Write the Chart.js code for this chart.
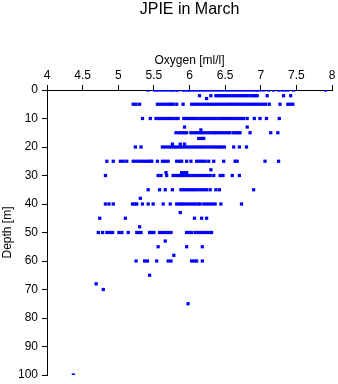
<!DOCTYPE html>
<html lang="en">
<head>
  <meta charset="UTF-8">
  <title>JPIE in March</title>
  <script src="https://cdn.jsdelivr.net/npm/chart.js"></script>
  <style>
    body { margin: 0; background: #fff; }
    canvas { display: block; }
  </style>
</head>
<body>
  <canvas id="graphique" width="338" height="384"></canvas>

  <script>
    // depth levels [m] and the oxygen readings [ml/l] taken at each level
    const depthLevels = [0, 2, 3, 5, 10, 13, 14, 15, 17, 19, 20, 25, 28, 29, 30, 35, 38, 40, 43, 45, 48, 50, 53, 55, 58, 60, 65, 68, 70, 75, 100];
    const oxygenByDepth = [
      [5.42, 5.51, 5.55, 5.59, 5.63, 5.67, 5.71, 5.74, 5.77, 5.81, 5.84, 5.91, 5.94, 5.98, 6.00, 6.04, 6.08, 6.12, 6.16, 6.20, 6.24, 6.28, 6.32, 6.36, 6.40, 6.44, 6.48, 6.52, 6.56, 6.60, 6.64, 6.68, 6.72, 6.76, 6.80, 6.84, 6.88, 6.92, 6.95, 6.99, 7.04, 7.11, 7.18, 7.25, 7.30, 7.34, 7.38, 7.46, 7.91],
      [6.14, 6.30, 6.37, 6.41, 6.45, 6.49, 6.53, 6.57, 6.61, 6.65, 6.69, 6.73, 6.77, 6.81, 6.85, 6.89, 6.92, 6.95, 7.09, 7.32, 7.42],
      [6.24],
      [5.21, 5.25, 5.30, 5.55, 5.59, 5.63, 5.67, 5.71, 5.74, 5.77, 5.82, 5.91, 6.03, 6.07, 6.11, 6.15, 6.19, 6.23, 6.27, 6.31, 6.35, 6.39, 6.43, 6.47, 6.51, 6.55, 6.59, 6.63, 6.67, 6.71, 6.75, 6.79, 6.83, 6.87, 6.91, 6.95, 6.99, 7.03, 7.07, 7.12, 7.27, 7.38, 7.42, 7.45],
      [5.34, 5.45, 5.53, 5.57, 5.61, 5.65, 5.69, 5.73, 5.77, 5.81, 5.84, 5.92, 5.96, 6.00, 6.04, 6.08, 6.12, 6.16, 6.20, 6.24, 6.28, 6.32, 6.36, 6.40, 6.44, 6.48, 6.52, 6.56, 6.60, 6.64, 6.68, 6.72, 6.76, 6.81, 6.91, 6.99, 7.08, 7.26],
      [5.93, 6.81],
      [6.16],
      [5.81, 5.85, 5.89, 5.93, 5.96, 6.02, 6.06, 6.10, 6.14, 6.18, 6.22, 6.26, 6.30, 6.34, 6.37, 6.41, 6.45, 6.49, 6.53, 6.56, 6.61, 6.65, 6.68, 6.71, 6.85, 7.14, 7.24],
      [6.13, 6.17, 6.20],
      [5.76, 5.87, 5.93],
      [5.24, 5.32, 5.62, 5.66, 5.70, 5.74, 5.78, 5.82, 5.86, 5.90, 5.94, 5.98, 6.02, 6.06, 6.10, 6.14, 6.18, 6.22, 6.26, 6.30, 6.34, 6.38, 6.42, 6.45, 6.49, 6.62, 6.70, 6.80],
      [4.84, 4.93, 5.03, 5.07, 5.12, 5.21, 5.25, 5.29, 5.33, 5.37, 5.41, 5.44, 5.47, 5.55, 5.62, 5.66, 5.70, 5.82, 5.86, 5.89, 5.96, 6.02, 6.10, 6.14, 6.18, 6.22, 6.27, 6.34, 6.48, 6.64, 6.67, 7.06, 7.25],
      [6.30],
      [5.67, 5.89, 5.93, 5.96],
      [4.82, 5.56, 5.60, 5.68, 5.77, 5.81, 5.84, 5.87, 5.89, 5.93, 5.97, 6.01, 6.05, 6.09, 6.13, 6.17, 6.21, 6.25, 6.29, 6.34, 6.43, 6.47, 6.60, 6.70],
      [5.42, 5.58, 5.66, 5.76, 5.88, 5.92, 5.96, 6.00, 6.04, 6.08, 6.12, 6.16, 6.20, 6.24, 6.29, 6.37, 6.42, 6.90],
      [5.31],
      [4.82, 4.87, 4.93, 5.20, 5.23, 5.26, 5.34, 5.42, 5.49, 5.63, 5.73, 5.82, 5.86, 5.89, 5.92, 5.96, 6.00, 6.04, 6.08, 6.12, 6.15, 6.20, 6.24, 6.28, 6.32, 6.36, 6.44, 6.73],
      [5.87],
      [4.74, 5.10, 6.07, 6.17, 6.24],
      [5.30],
      [4.72, 4.78, 4.84, 4.88, 4.92, 5.01, 5.05, 5.14, 5.26, 5.29, 5.32, 5.44, 5.47, 5.50, 5.58, 5.62, 5.66, 5.70, 5.74, 5.96, 6.00, 6.03, 6.08, 6.12, 6.16, 6.20, 6.24, 6.28, 6.31],
      [5.66],
      [5.56, 5.96, 6.18],
      [5.78],
      [5.25, 5.37, 5.41, 5.54, 5.70, 5.74, 6.03, 6.07, 6.10, 6.18],
      [5.44],
      [4.69],
      [4.79],
      [5.98],
      [4.37]
    ];
    const oxygenTicks = [4, 4.5, 5, 5.5, 6, 6.5, 7, 7.5, 8];
    const depthTicks = [0, 10, 20, 30, 40, 50, 60, 70, 80, 90, 100];

    const points = [];
    depthLevels.forEach((d, i) => {
      oxygenByDepth[i].forEach(o => points.push({ x: o, y: d }));
    });

    Chart.defaults.font.family = "'Liberation Sans', Arial, sans-serif";
    Chart.defaults.font.size = 12;
    Chart.defaults.color = '#000';

    const ctx = document.getElementById("graphique").getContext("2d");
    new Chart(ctx, {
      type: 'scatter',
      data: {
        datasets: [{
          data: points,
          backgroundColor: '#0000ff',
          borderWidth: 0,
          pointStyle: 'rect',
          pointRadius: 2.3,
          pointHoverRadius: 2.3
        }]
      },
      options: {
        responsive: false,
        animation: false,
        layout: { padding: { left: 0, right: 6, top: 0, bottom: 9 } },
        plugins: {
          legend: { display: false },
          tooltip: { enabled: false },
          title: {
            display: true,
            text: 'JPIE in March',
            fullSize: false,
            font: { size: 16, weight: 'normal' },
            padding: { top: 0, bottom: 0 }
          }
        },
        scales: {
          x: {
            type: 'linear',
            position: 'top',
            min: 4,
            max: 8,
            afterBuildTicks: s => { s.ticks = oxygenTicks.map(v => ({ value: v })); },
            afterFit: s => { s.height = 70.8; },
            ticks: { padding: 2, callback: v => String(v) },
            grid: { drawOnChartArea: false, drawTicks: true, tickLength: 5, color: '#000' },
            border: { color: '#000', width: 1 },
            title: { display: true, text: 'Oxygen [ml/l]', padding: { top: 34.6, bottom: 0 } }
          },
          y: {
            type: 'linear',
            reverse: true,
            min: 0,
            max: 100,
            afterBuildTicks: s => { s.ticks = depthTicks.map(v => ({ value: v })); },
            afterFit: s => { s.width = 47; s.paddingTop = 0; s.paddingBottom = 0; },
            ticks: { padding: 4 },
            grid: { drawOnChartArea: false, drawTicks: true, tickLength: 5, color: '#000' },
            border: { color: '#000', width: 1 },
            title: { display: true, text: 'Depth [m]', padding: { top: 0, bottom: 0 } }
          }
        }
      }
    });
  </script>
</body>
</html>
